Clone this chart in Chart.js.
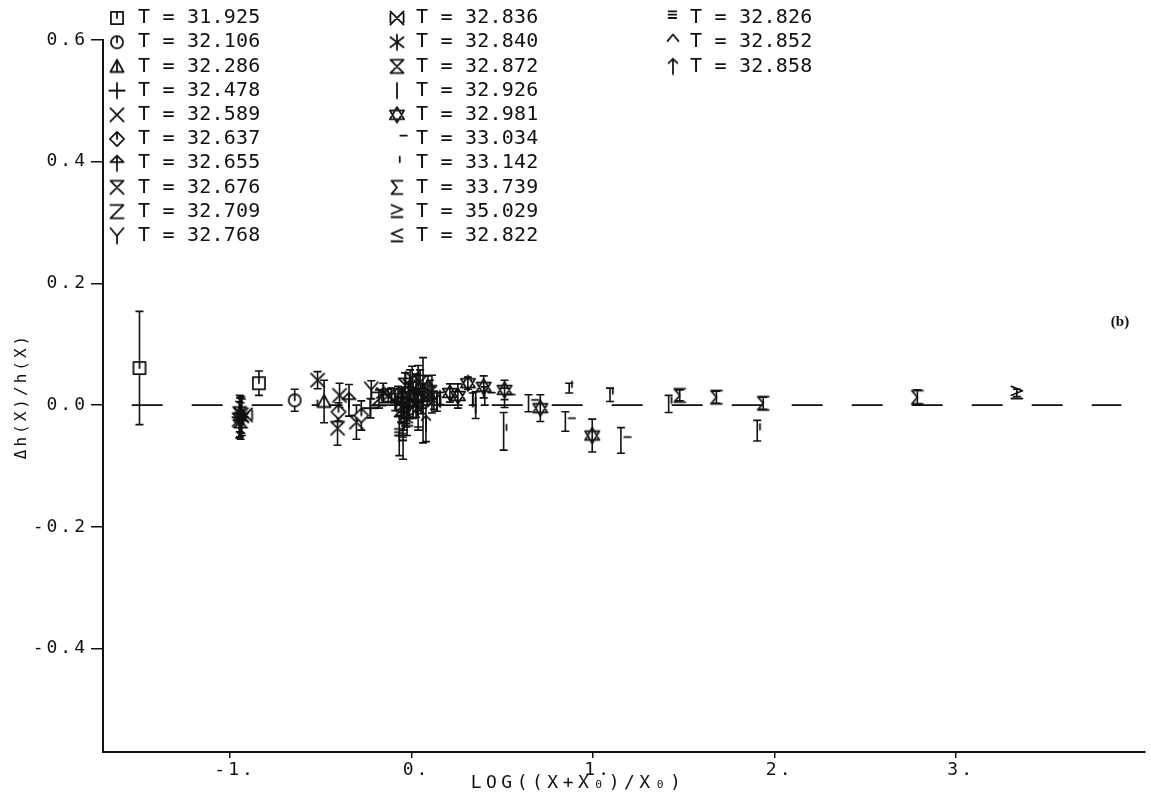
<!DOCTYPE html>
<html><head><meta charset="utf-8">
<script src="https://cdn.jsdelivr.net/npm/chart.js@4/dist/chart.umd.min.js"></script>
<style>html,body{margin:0;padding:0;background:#fff;}canvas{display:block;}</style>
</head><body>
<canvas id="c" width="1151" height="793"></canvas>
<script>
// ---------------- data ----------------
const seriesT = ['31.925','32.106','32.286','32.478','32.589','32.637','32.655','32.676','32.709','32.768',
                 '32.836','32.840','32.872','32.926','32.981','33.034','33.142','33.739','35.029','32.822',
                 '32.826','32.852','32.858'];
// each entry: [x = LOG((X+X0)/X0), y = Δh/h, error]
const S01 = [[-1.499,0.061,0.093],[-0.841,0.036,0.020]];
const S02 = [[-0.644,0.008,0.018]];
const S03 = [[-0.482,0.006,0.035]];
const S04 = [[-0.227,-0.005,0.016],[-0.945,-0.020,0.032]];
const S05 = [[-0.518,0.041,0.014],[-0.397,0.016,0.020],[-0.938,-0.016,0.030]];
const S06 = [[-0.403,-0.011,0.015],[-0.277,-0.017,0.024]];
const S07 = [[-0.345,0.008,0.026]];
const S08 = [[-0.408,-0.038,0.028],[-0.304,-0.028,0.028],[-0.950,-0.024,0.030]];
const S09 = [[-0.058,-0.008,0.020],[-0.180,0.010,0.015],[-0.942,-0.026,0.030],[-0.074,0.016,0.015],[0.052,0.011,0.025]];
const S10 = [[-0.222,0.025,0.015],[-0.112,0.016,0.012],[-0.090,0.005,0.014]];
const S11 = [[-0.129,0.016,0.010],[-0.047,0.000,0.020],[-0.019,0.016,0.020],[0.003,0.044,0.020],[0.123,0.008,0.015],[-0.915,-0.016,0]];
const S12 = [[-0.156,0.020,0.016],[-0.008,0.033,0.025],[0.025,0.021,0.030],[0.025,0.000,0.020],[-0.052,0.008,0.020],[-0.935,-0.020,0.030]];
const S13 = [[-0.030,-0.011,0.025],[0.008,0.008,0.030],[0.047,0.038,0.020],[-0.036,0.033,0.020],[0.101,0.021,0.020],[-0.947,-0.014,0.030]];
const S14 = [[0.063,0.008,0.070],[0.036,0.012,0.053],[0.112,0.018,0.031],[0.156,0.011,0.010],[0.337,0.010,0.010],[0.353,0.000,0.022],[0.140,0.005,0.015],
             [-0.959,-0.020,0],[-0.948,-0.020,0],[-0.937,-0.020,0],[-0.926,-0.020,0],
             [-0.020,0.005,0],[0.015,0.015,0],[0.030,-0.005,0],[0.070,0.022,0]];
const S15 = [[0.211,0.020,0.015],[0.255,0.015,0.020],[0.310,0.036,0.010],[0.397,0.030,0.018],[0.512,0.025,0.016],[0.709,-0.005,0.022],[0.995,-0.050,0.027]];
const S16 = [[0.644,0.003,0.014],[0.847,-0.027,0.016],[1.153,-0.058,0.021],[0.403,0.015,0.015],[0.512,0.012,0.016]];
const S17 = [[0.507,-0.043,0.031],[0.868,0.028,0.008],[1.093,0.017,0.011],[1.416,0.002,0.014],[1.904,-0.042,0.017],[-0.534,-0.003,0]];
const S18 = [[1.477,0.016,0.009],[1.679,0.013,0.010],[1.937,0.003,0.010],[2.786,0.013,0.012]];
const S19 = [[3.334,0.020,0.006]];
const S20 = [[-0.041,-0.021,0.020],[0.063,0.015,0.020],[-0.025,-0.025,0.025]];
const S21 = [[-0.068,-0.050,0.033],[-0.047,-0.058,0.031]];
const S22 = [[-0.014,0.000,0.020],[0.090,0.028,0.020],[0.036,-0.016,0.020]];
const S23 = [[0.079,-0.030,0.030]];
const seriesData = [S01,S02,S03,S04,S05,S06,S07,S08,S09,S10,S11,S12,S13,S14,S15,S16,S17,S18,S19,S20,S21,S22,S23];

const zeroLineX = [-1.542, 3.910];
const xTickVals = [-1, 0, 1, 2, 3];
const xTickText = ['-1.', '0.', '1.', '2.', '3.'];
const yTickVals = [-0.4, -0.2, 0, 0.2, 0.4, 0.6];
const yTickText = ['-0.4', '-0.2', '0.0', '0.2', '0.4', '0.6'];
const X_MIN = -1.70, X_MAX = 4.04, Y_MIN = -0.57, Y_MAX = 0.6;
const xTitle = 'LOG((X+X₀)/X₀)';
const yTitle = 'Δh(X)/h(X)';
const panelTag = '(b)';

// ---------------- styles ----------------
const INK = '#111';
const FONT = '"DejaVu Sans Mono", "Liberation Mono", monospace';
const CAP = 4;
const SYM = 22;
const LEG_ROWS = 10, LEG_Y0 = 18, LEG_DY = 24.2;
const LEG_SYM_X = [117, 397, 673];
const LEG_TXT_X = [138, 416, 690];

function sym(fn, fill) {
  const c = document.createElement('canvas');
  c.width = SYM; c.height = SYM;
  const g = c.getContext('2d');
  g.translate(SYM / 2, SYM / 2); g.scale(1.1, 1.1); g.translate(-10, -10);
  g.strokeStyle = INK; g.lineWidth = 1.6; g.lineCap = 'round'; g.lineJoin = 'round';
  g.beginPath(); fn(g);
  if (fill) { g.fillStyle = '#fff'; g.fill(); }
  g.stroke();
  return c;
}
function P(g, pts) { g.moveTo(pts[0][0], pts[0][1]); for (let i = 1; i < pts.length; i++) g.lineTo(pts[i][0], pts[i][1]); }

const symbols = [
  sym(g => { g.rect(4.5,4.5,11,11); g.moveTo(10,4.5); g.lineTo(10,10); }, true),
  sym(g => { g.moveTo(15.5,10); g.arc(10,10,5.5,0,Math.PI*2); g.moveTo(10,4.5); g.lineTo(10,10); }, true),
  sym(g => { P(g,[[10,4],[16,15],[4,15],[10,4]]); g.moveTo(10,4); g.lineTo(10,15); }, true),
  sym(g => { P(g,[[3,10],[17,10]]); P(g,[[10,3],[10,17]]); }),
  sym(g => { P(g,[[4,4],[16,16]]); P(g,[[16,4],[4,16]]); }),
  sym(g => { P(g,[[10,3.5],[16.5,10],[10,16.5],[3.5,10],[10,3.5]]); g.moveTo(10,3.5); g.lineTo(10,10); }, true),
  sym(g => { P(g,[[4,9],[10,3],[16,9]]); P(g,[[4,9],[16,9]]); P(g,[[10,3],[10,17]]); }),
  sym(g => { P(g,[[4,4],[16,4]]); P(g,[[4,4],[16,16]]); P(g,[[16,4],[4,16]]); }),
  sym(g => { P(g,[[4,4],[16,4],[4,16],[16,16]]); }),
  sym(g => { P(g,[[4,3],[10,10],[16,3]]); P(g,[[10,10],[10,17]]); }),
  sym(g => { P(g,[[4,4],[16,16]]); P(g,[[16,4],[4,16]]); P(g,[[4,6],[4,14]]); P(g,[[16,6],[16,14]]); }),
  sym(g => { P(g,[[10,3],[10,17]]); P(g,[[4,5.5],[16,14.5]]); P(g,[[16,5.5],[4,14.5]]); }),
  sym(g => { P(g,[[4,4],[16,4]]); P(g,[[4,16],[16,16]]); P(g,[[4,4],[16,16]]); P(g,[[16,4],[4,16]]); }),
  sym(g => { P(g,[[10,3],[10,17]]); }),
  sym(g => { P(g,[[10,3],[16.5,14],[3.5,14],[10,3]]); P(g,[[10,17],[16.5,6],[3.5,6],[10,17]]); }),
  sym(g => { P(g,[[13,7],[19,7]]); }),
  sym(g => { P(g,[[12.5,4],[12.5,9]]); }),
  sym(g => { P(g,[[15,4],[5,4],[10,10],[5,16],[15,16]]); }),
  sym(g => { P(g,[[5,4],[15,8],[5,12]]); P(g,[[5,15],[15,15]]); }),
  sym(g => { P(g,[[15,4],[5,8],[15,12]]); P(g,[[5,15],[15,15]]); }),
  sym(g => { P(g,[[6,4],[13,4]]); P(g,[[6,7],[13,7]]); P(g,[[6,10],[13,10]]); }),
  sym(g => { P(g,[[5,9],[10,3],[15,9]]); }),
  sym(g => { P(g,[[10,3],[10,17]]); P(g,[[6,7],[10,3],[14,7]]); })
];

const datasets = seriesData.map((arr, i) => ({
  type: 'scatter',
  label: 'T = ' + seriesT[i],
  isSeries: true,
  data: arr.map(([x, y, e]) => ({ x, y, e })),
  pointStyle: symbols[i],
  pointRadius: 5,
  borderColor: INK,
  order: 1
}));
datasets.push({
  type: 'line',
  label: 'zero',
  data: zeroLineX.map(x => ({ x, y: 0 })),
  borderColor: INK,
  borderWidth: 1.6,
  borderDash: [31, 29],
  pointRadius: 0,
  order: 100
});

// ---------------- plugins ----------------
const spacingPlugin = {
  id: 'spacing',
  beforeDraw(chart) {
    const ctx = chart.ctx;
    ctx.save();
    ctx.fillStyle = '#fff';
    ctx.fillRect(0, 0, chart.width, chart.height);
    ctx.restore();
    ctx.letterSpacing = '3px';
  }
};
const errorBarPlugin = {
  id: 'errorBars',
  beforeDatasetsDraw(chart) {
    const { ctx, scales: { x, y } } = chart;
    ctx.save();
    ctx.strokeStyle = INK; ctx.lineWidth = 1.6;
    ctx.beginPath();
    chart.data.datasets.forEach(ds => {
      if (!ds.isSeries) return;
      ds.data.forEach(p => {
        if (!p.e) return;
        const px = x.getPixelForValue(p.x);
        const top = y.getPixelForValue(p.y + p.e), bot = y.getPixelForValue(p.y - p.e);
        ctx.moveTo(px, top); ctx.lineTo(px, bot);
        ctx.moveTo(px - CAP, top); ctx.lineTo(px + CAP, top);
        ctx.moveTo(px - CAP, bot); ctx.lineTo(px + CAP, bot);
      });
    });
    ctx.stroke();
    ctx.restore();
  }
};
const legendPlugin = {
  id: 'plotLegend',
  afterDatasetsDraw(chart) {
    const ctx = chart.ctx;
    ctx.save();
    ctx.font = '20px ' + FONT;
    ctx.letterSpacing = '0.2px';
    ctx.fillStyle = INK;
    ctx.textBaseline = 'middle';
    ctx.textAlign = 'left';
    chart.data.datasets.forEach((ds, i) => {
      if (!ds.isSeries) return;
      const col = Math.floor(i / LEG_ROWS), row = i % LEG_ROWS;
      const yy = LEG_Y0 + row * LEG_DY;
      ctx.drawImage(ds.pointStyle, LEG_SYM_X[col] - SYM / 2, yy - SYM / 2);
      ctx.fillText(ds.label, LEG_TXT_X[col], yy);
    });
    // x-axis title
    ctx.font = '18px ' + FONT;
    ctx.letterSpacing = '4.5px';
    ctx.textAlign = 'center';
    ctx.fillText(xTitle, 578, 783);
    // panel tag
    ctx.letterSpacing = '0px';
    ctx.font = 'bold 15px "Liberation Serif", serif';
    ctx.fillText(panelTag, 1120, 322);
    ctx.restore();
  }
};

new Chart(document.getElementById('c'), {
  type: 'scatter',
  data: { datasets },
  options: {
    responsive: false,
    animation: false,
    devicePixelRatio: 1,
    layout: { padding: { top: 40, right: 0, left: 0, bottom: 0 } },
    plugins: { legend: { display: false }, tooltip: { enabled: false } },
    scales: {
      x: {
        type: 'linear', min: X_MIN, max: X_MAX,
        afterBuildTicks: s => { s.ticks = xTickVals.map(v => ({ value: v })); },
        afterFit: s => { s.height = 41; },
        grid: { drawOnChartArea: false, drawTicks: true, tickLength: 6, color: INK, lineWidth: 1.5 },
        border: { display: true, color: INK, width: 2 },
        ticks: { color: INK, font: { family: FONT, size: 18 }, padding: 2, maxRotation: 0, autoSkip: false,
                 labelOffset: 5, callback: (v, i) => xTickText[i] },
        title: { display: false }
      },
      y: {
        type: 'linear', min: Y_MIN, max: Y_MAX,
        afterBuildTicks: s => { s.ticks = yTickVals.map(v => ({ value: v })); },
        afterFit: s => { s.width = 103; },
        grid: { drawOnChartArea: false, drawTicks: true, tickLength: 12, color: INK, lineWidth: 1.5 },
        border: { display: true, color: INK, width: 2 },
        ticks: { color: INK, font: { family: FONT, size: 18 }, padding: 3, autoSkip: false,
                 callback: (v, i) => yTickText[i] },
        title: { display: true, text: yTitle, color: INK, font: { family: FONT, size: 16, lineHeight: 1.2 }, padding: { top: 12, bottom: 0 } }
      }
    }
  },
  plugins: [spacingPlugin, errorBarPlugin, legendPlugin]
});
</script>
</body></html>
